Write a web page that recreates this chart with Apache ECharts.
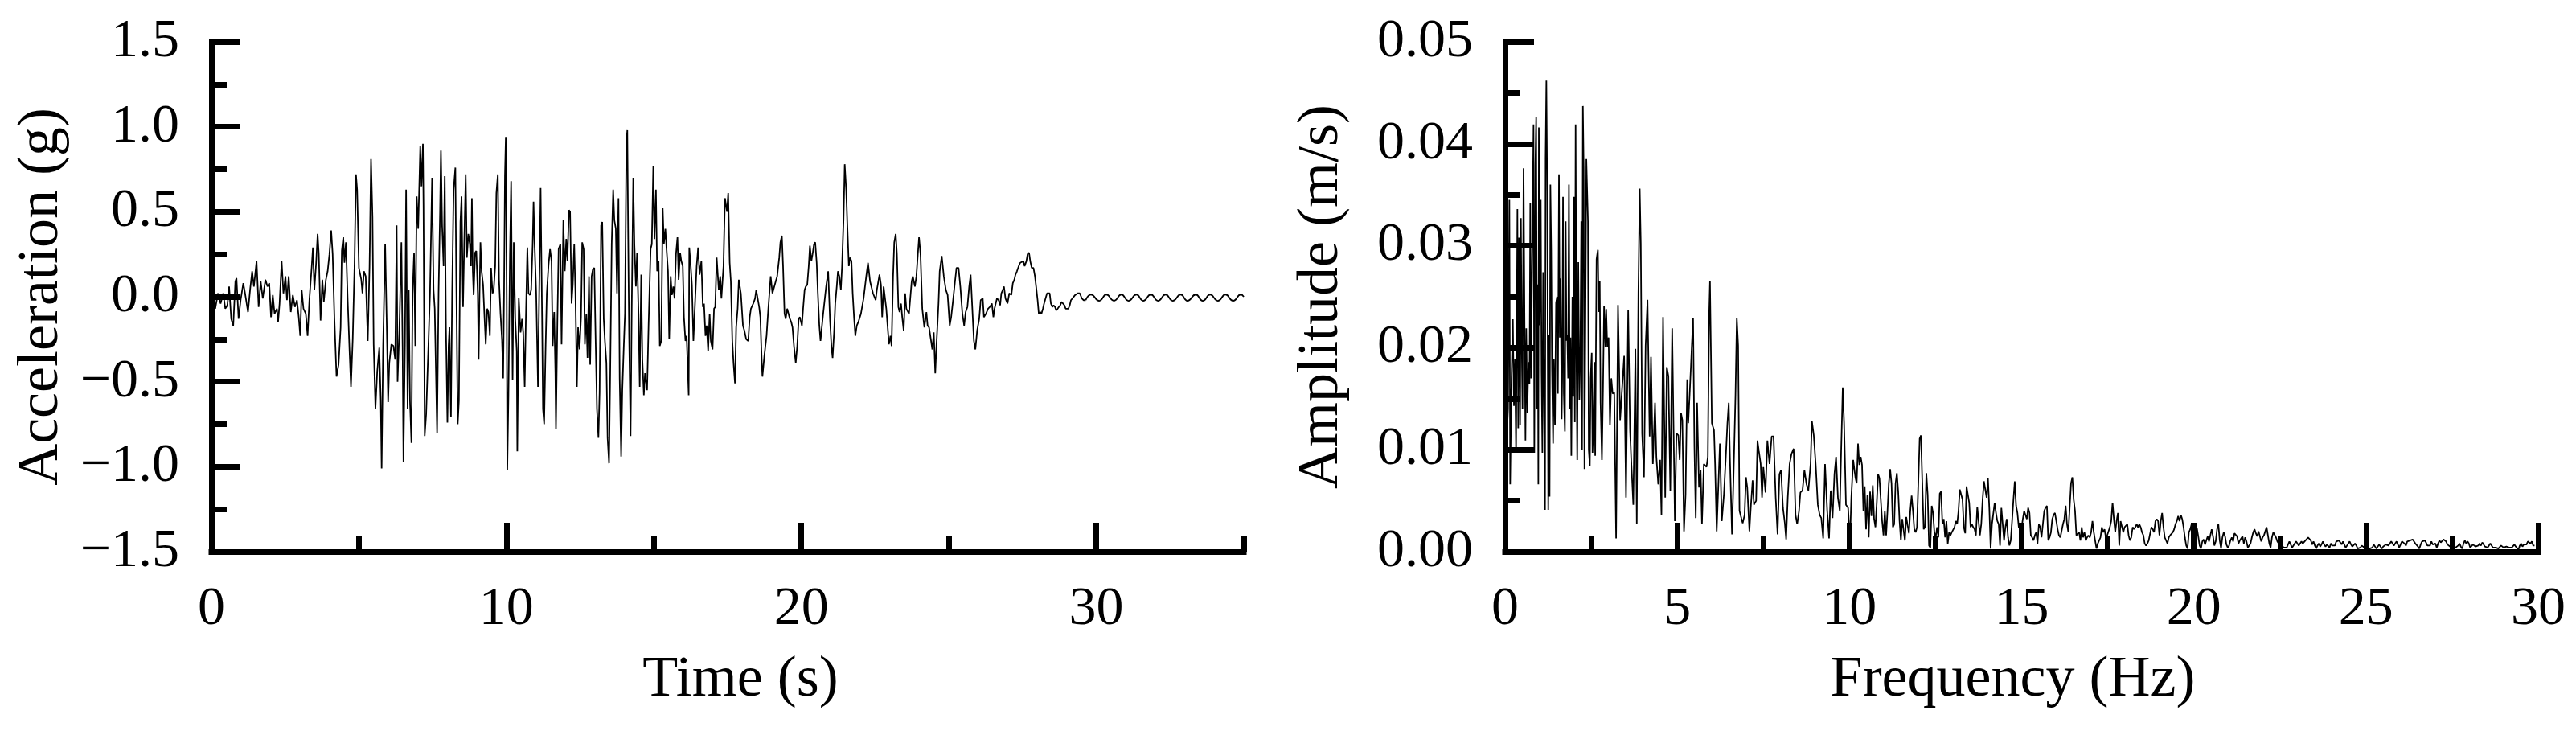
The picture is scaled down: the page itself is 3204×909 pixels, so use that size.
<!DOCTYPE html>
<html>
<head>
<meta charset="utf-8">
<title>Acceleration and Fourier amplitude</title>
<script src="https://cdn.jsdelivr.net/npm/echarts@6.0.0/dist/echarts.min.js"></script>
<style>
  html, body { margin: 0; padding: 0; background: #fff; }
  #chart { width: 3204px; height: 909px; }
</style>
</head>
<body>
<div id="chart"></div>
<script>
// time history, [time s, acceleration g]
var accel0to6 = [[0,0],[0.13,-0.07],[0.22,0.02],[0.31,-0.04],[0.40,0.02],[0.47,-0.07],[0.54,-0.05],[0.60,0.06],[0.67,-0.13],[0.74,-0.17],[0.81,0.09],[0.85,0.11],[0.92,-0.13],[0.99,-0.02],[1.08,0.08],[1.14,0.02],[1.24,-0.09],[1.31,0.04],[1.38,0.15],[1.44,0.06],[1.53,0.21],[1.60,-0.06],[1.67,0.09],[1.74,-0.01],[1.83,0.10],[1.90,0.06],[1.96,0.08],[2.02,-0.12],[2.08,0.01],[2.14,-0.10],[2.22,-0.07],[2.26,-0.15],[2.31,-0.04],[2.38,0.21],[2.44,0.02],[2.51,0.12],[2.56,-0.02],[2.62,0.12],[2.69,-0.09],[2.76,0.01],[2.83,-0.06],[2.90,-0.02],[2.96,-0.12],[3.01,-0.23],[3.06,0.04],[3.12,-0.07],[3.20,-0.10],[3.26,-0.23],[3.32,-0.02],[3.40,0.18],[3.44,0.29],[3.49,0.04],[3.55,0.20],[3.60,0.37],[3.64,0.25],[3.70,-0.14],[3.76,0.10],[3.81,-0.03],[3.88,0.10],[3.94,0.15],[4.00,0.25],[4.06,0.39],[4.11,0.25],[4.17,-0.13],[4.24,-0.47],[4.31,-0.40],[4.38,-0.18],[4.42,0.27],[4.47,0.35],[4.51,0.20],[4.56,0.32],[4.62,-0.02],[4.68,-0.31],[4.73,-0.53],[4.79,-0.25],[4.85,0.18],[4.90,0.72],[4.94,0.63],[5.00,0.17],[5.08,0.10],[5.12,0.02],[5.17,0.15],[5.23,0.12],[5.30,-0.26],[5.36,0.18],[5.41,0.81],[5.46,0.47],[5.50,-0.28],[5.56,-0.66],[5.62,-0.44],[5.69,-0.30],[5.74,-0.61],[5.77,-1.01],[5.82,-0.29],[5.89,0.31],[5.94,-0.13],[5.99,-0.62]];
var accel6to12 = [[6.03,-0.39],[6.10,-0.28],[6.17,-0.29],[6.23,-0.37],[6.28,0.42],[6.31,-0.50],[6.37,-0.20],[6.44,0.32],[6.48,-0.29],[6.51,-0.97],[6.56,-0.29],[6.60,0.63],[6.65,-0.66],[6.69,0.04],[6.73,-0.61],[6.78,-0.86],[6.82,0.02],[6.87,0.26],[6.91,-0.29],[6.96,0.59],[7.01,0.40],[7.08,0.89],[7.12,0.65],[7.17,0.90],[7.19,0.53],[7.23,-0.82],[7.28,-0.69],[7.35,-0.32],[7.41,0.02],[7.48,0.70],[7.53,0.04],[7.57,-0.07],[7.65,-0.80],[7.70,0.02],[7.75,0.50],[7.78,0.86],[7.82,0.42],[7.87,0.18],[7.91,0.71],[7.95,-0.18],[8.00,-0.74],[8.04,-0.29],[8.07,-0.18],[8.12,-0.71],[8.16,0.02],[8.21,0.63],[8.27,0.76],[8.30,0.10],[8.35,-0.75],[8.39,-0.61],[8.44,0.44],[8.48,0.59],[8.53,-0.06],[8.57,0.31],[8.62,0.72],[8.66,0.23],[8.71,0.37],[8.76,0.31],[8.80,0.18],[8.83,0.58],[8.86,0.15],[8.89,0.01],[8.94,0.26],[8.98,0.27],[9.03,0.02],[9.06,-0.37],[9.09,0.02],[9.12,0.32],[9.16,0.15],[9.21,0.07],[9.26,-0.13],[9.30,-0.28],[9.35,-0.07],[9.39,-0.09],[9.44,-0.23],[9.48,0.17],[9.53,0.02],[9.57,0.04],[9.62,0.18],[9.66,0.61],[9.71,0.72],[9.75,0.10],[9.80,-0.10],[9.85,-0.25],[9.89,-0.48],[9.92,0.02],[9.95,0.71],[9.98,0.94],[10.01,0.02],[10.03,-1.02],[10.07,-0.58],[10.12,0.25],[10.16,0.68],[10.21,-0.49],[10.25,0.32],[10.30,-0.13],[10.35,-0.32],[10.37,-0.91],[10.42,-0.01],[10.48,-0.21],[10.53,-0.13],[10.57,-0.21],[10.62,-0.53],[10.66,-0.13],[10.71,0.29],[10.75,0.02],[10.80,0.01],[10.84,0.04],[10.89,0.31],[10.92,0.56],[10.95,0.34],[11.01,0.02],[11.07,-0.53],[11.12,0.13],[11.16,0.64],[11.21,-0.13],[11.24,-0.66],[11.28,-0.75],[11.33,-0.29],[11.37,0.02],[11.43,0.19],[11.48,0.28],[11.53,0.21],[11.57,-0.29],[11.62,-0.09],[11.66,-0.45],[11.68,-0.78],[11.73,-0.13],[11.77,0.28],[11.83,0.31],[11.87,-0.28],[11.93,0.45],[11.98,0.15]];
var accel12to18 = [[12.03,0.34],[12.07,0.21],[12.12,0.51],[12.16,0.50],[12.21,-0.04],[12.25,0.07],[12.30,0.31],[12.34,0.02],[12.39,-0.53],[12.43,-0.18],[12.48,-0.31],[12.53,-0.12],[12.57,0.32],[12.62,0.28],[12.66,-0.28],[12.71,-0.10],[12.75,-0.36],[12.80,0.12],[12.84,-0.40],[12.89,0.12],[12.93,0.16],[12.98,0.17],[13.02,-0.21],[13.07,-0.66],[13.12,-0.83],[13.16,-0.56],[13.21,0.42],[13.25,0.44],[13.30,-0.13],[13.34,-0.26],[13.39,-0.39],[13.43,-0.83],[13.48,-0.98],[13.52,-0.45],[13.57,0.31],[13.62,0.63],[13.66,0.45],[13.71,0.40],[13.75,0.02],[13.80,0.58],[13.84,-0.48],[13.89,-0.94],[13.93,-0.55],[13.98,-0.29],[14.02,-0.10],[14.07,0.91],[14.10,0.98],[14.13,0.34],[14.16,-0.23],[14.21,-0.82],[14.25,-0.06],[14.30,0.70],[14.34,0.31],[14.39,0.06],[14.43,0.26],[14.48,-0.10],[14.52,-0.53],[14.57,0.13],[14.61,-0.37],[14.66,-0.58],[14.70,-0.45],[14.77,-0.55],[14.82,-0.17],[14.89,0.28],[14.93,0.31],[14.98,0.77],[15.02,0.34],[15.07,0.63],[15.11,0.15],[15.16,0.21],[15.20,-0.29],[15.25,-0.26],[15.30,0.52],[15.34,0.31],[15.39,0.40],[15.43,0.28],[15.48,0.15],[15.52,-0.25],[15.57,0.12],[15.61,0.01],[15.66,0.06],[15.70,-0.01],[15.75,0.25],[15.80,0.35],[15.84,0.10],[15.89,0.26],[15.93,0.21],[15.98,0.18],[16.02,-0.12],[16.07,-0.26],[16.11,-0.23],[16.18,-0.58],[16.20,0.29],[16.25,0.18],[16.29,0.07],[16.34,-0.26],[16.39,-0.06],[16.45,0.18],[16.50,0.29],[16.55,0.13],[16.61,0.21],[16.66,-0.06],[16.70,-0.04],[16.75,-0.23],[16.79,-0.17],[16.84,-0.32],[16.89,-0.10],[16.93,-0.26],[16.99,-0.31],[17.04,-0.07],[17.08,-0.06],[17.13,0.23],[17.20,0.04],[17.25,0.12],[17.29,-0.01],[17.36,0.18],[17.41,0.58],[17.48,0.50],[17.52,0.61],[17.57,0.20],[17.61,0.09],[17.66,-0.26],[17.70,-0.39],[17.75,-0.51],[17.79,-0.18],[17.84,-0.07],[17.88,0.10],[17.95,0.02]];
var accel18to24 = [[18.02,-0.17],[18.07,-0.20],[18.13,-0.25],[18.20,-0.26],[18.25,-0.12],[18.29,-0.07],[18.37,-0.04],[18.43,-0.01],[18.47,0.04],[18.57,-0.06],[18.61,-0.12],[18.66,-0.39],[18.68,-0.47],[18.75,-0.34],[18.82,-0.23],[18.88,-0.07],[18.96,0.12],[19.02,0.02],[19.06,0.02],[19.13,0.09],[19.18,0.12],[19.25,0.23],[19.29,0.32],[19.34,0.36],[19.38,0.18],[19.43,-0.10],[19.47,-0.13],[19.52,-0.07],[19.56,-0.07],[19.61,-0.13],[19.66,-0.15],[19.70,-0.18],[19.75,-0.29],[19.81,-0.39],[19.86,-0.29],[19.91,-0.13],[19.95,-0.12],[20.02,-0.17],[20.06,-0.07],[20.11,0.04],[20.15,0.06],[20.20,0.07],[20.25,0.18],[20.29,0.30],[20.34,0.21],[20.38,0.25],[20.43,0.31],[20.47,0.32],[20.52,0.20],[20.56,0.02],[20.61,-0.17],[20.65,-0.26],[20.70,-0.17],[20.74,-0.10],[20.84,0.06],[20.91,0.15],[20.97,-0.13],[21.02,-0.29],[21.06,-0.36],[21.11,-0.21],[21.15,-0.04],[21.20,0.06],[21.24,0.15],[21.29,0.12],[21.34,0.04],[21.38,0.18],[21.43,0.45],[21.47,0.78],[21.52,0.63],[21.56,0.42],[21.61,0.18],[21.65,0.23],[21.70,0.21],[21.74,0.02],[21.79,-0.13],[21.83,-0.23],[21.88,-0.17],[21.93,-0.15],[22.02,-0.10],[22.11,-0.01],[22.20,0.12],[22.26,0.20],[22.33,0.09],[22.43,0.02],[22.52,-0.02],[22.56,0.04],[22.65,0.13],[22.70,0.07],[22.74,-0.12],[22.79,0.06],[22.88,-0.07],[22.97,-0.28],[23.02,-0.23],[23.06,-0.29],[23.11,0.12],[23.15,0.32],[23.20,0.37],[23.24,0.25],[23.29,-0.06],[23.33,-0.09],[23.38,-0.04],[23.42,-0.12],[23.47,-0.20],[23.52,0.02],[23.56,-0.07],[23.65,-0.10],[23.74,0.09],[23.78,0.12],[23.85,0.06],[23.90,0.12],[23.95,0.25],[23.99,0.35]];
var accel24to30 = [[24.04,0.25],[24.10,-0.07],[24.17,-0.18],[24.24,-0.09],[24.28,-0.17],[24.33,-0.18],[24.39,-0.25],[24.44,-0.31],[24.49,-0.21],[24.54,-0.45],[24.58,-0.29],[24.65,-0.04],[24.69,0.15],[24.76,0.24],[24.83,0.12],[24.90,0.04],[24.96,0.01],[25.03,-0.17],[25.08,-0.12],[25.15,-0.01],[25.21,0.09],[25.26,0.17],[25.33,0.17],[25.39,0.06],[25.46,-0.10],[25.52,-0.17],[25.57,-0.09],[25.63,-0.06],[25.69,0.06],[25.74,0.13],[25.78,-0.01],[25.85,-0.26],[25.90,-0.31],[25.96,-0.20],[26.03,-0.13],[26.08,-0.02],[26.15,-0.01],[26.19,-0.12],[26.26,-0.10],[26.33,-0.07],[26.39,-0.06],[26.46,-0.04],[26.51,-0.12],[26.55,-0.07],[26.63,-0.01],[26.69,-0.02],[26.74,-0.05],[26.78,0.02],[26.83,0.04],[26.87,0.06],[26.92,-0.01],[26.99,-0.04],[27.05,0.02],[27.12,0.01],[27.17,0.08],[27.22,0.10],[27.26,0.13],[27.31,0.15],[27.37,0.18],[27.42,0.20],[27.46,0.20],[27.53,0.21],[27.57,0.18],[27.63,0.21],[27.67,0.25],[27.72,0.26],[27.76,0.21],[27.81,0.17],[27.87,0.17],[27.92,0.12],[27.96,0.06],[28.01,-0.02],[28.05,-0.10],[28.10,-0.09],[28.14,-0.10],[28.19,-0.07],[28.23,-0.04],[28.28,-0.01],[28.33,0.02],[28.37,0.02],[28.42,0.02],[28.46,-0.04],[28.51,-0.06],[28.55,-0.05],[28.60,-0.06],[28.64,-0.08],[28.69,-0.07],[28.73,-0.06],[28.78,-0.05],[28.82,-0.03],[28.87,-0.04],[28.92,-0.05],[28.96,-0.07],[29.01,-0.07],[29.05,-0.07],[29.10,-0.05],[29.14,-0.02],[29.19,-0.01],[29.28,0.01],[29.37,0.02],[29.44,0.02],[29.51,-0.01],[29.57,-0.02],[29.64,-0.02]];
// small free oscillation at the end of the record (peaks and troughs)
var accelTail = [[29.64,-0.02],[29.82,0.013],[30.10,-0.024],[30.34,0.013],[30.60,-0.024],[30.85,0.013],[31.09,-0.024],[31.36,0.013],[31.59,-0.024],[31.85,0.013],[32.09,-0.024],[32.35,0.013],[32.59,-0.024],[32.86,0.013],[33.09,-0.024],[33.37,0.013],[33.61,-0.024],[33.86,0.013],[34.12,-0.024],[34.38,0.013],[34.64,-0.024],[34.90,0.013],[35.00,0.0]];

// Fourier spectrum, [frequency Hz, amplitude m/s]
var specBelow3Hz = [[0.04,0.0105],[0.086,0.0140],[0.125,0.0345],[0.148,0.0066],[0.187,0.0170],[0.226,0.0228],[0.257,0.0143],[0.288,0.0189],[0.319,0.0097],[0.358,0.0336],[0.382,0.0121],[0.405,0.0308],[0.436,0.0124],[0.460,0.0327],[0.483,0.0204],[0.506,0.0140],[0.537,0.0376],[0.569,0.0207],[0.592,0.0109],[0.615,0.0219],[0.646,0.0136],[0.678,0.0186],[0.709,0.0164],[0.732,0.0342],[0.755,0.0170],[0.787,0.0287],[0.826,0.0419],[0.849,0.0097],[0.880,0.0379],[0.903,0.0426],[0.927,0.0140],[0.950,0.0262],[0.966,0.0066],[0.981,0.0416],[1.005,0.0222],[1.036,0.0345],[1.059,0.0176],[1.083,0.0097],[1.106,0.0274],[1.137,0.0130],[1.160,0.0041],[1.176,0.0385],[1.199,0.0462],[1.223,0.0354],[1.254,0.0041],[1.277,0.0213],[1.293,0.0054],[1.316,0.0360],[1.340,0.0296],[1.363,0.0179],[1.394,0.0106],[1.417,0.0189],[1.449,0.0124],[1.480,0.0244],[1.511,0.0250],[1.534,0.0155],[1.565,0.0370],[1.589,0.0210],[1.612,0.0268],[1.643,0.0130],[1.659,0.0170],[1.682,0.0348],[1.706,0.0155],[1.737,0.0118],[1.760,0.0324],[1.783,0.0207],[1.807,0.0213],[1.830,0.0170],[1.854,0.0360],[1.877,0.0140],[1.900,0.0210],[1.924,0.0094],[1.955,0.0250],[1.978,0.0152],[2.002,0.0348],[2.025,0.0127],[2.048,0.0419],[2.072,0.0195],[2.095,0.0090],[2.126,0.0284],[2.157,0.0149],[2.188,0.0201],[2.212,0.0324],[2.235,0.0100],[2.259,0.0437],[2.282,0.0376],[2.305,0.0081],[2.329,0.0207],[2.360,0.0385],[2.383,0.0386],[2.407,0.0324],[2.430,0.0100],[2.461,0.0084],[2.484,0.0170],[2.516,0.0195],[2.539,0.0097],[2.562,0.0121],[2.593,0.0186],[2.617,0.0094],[2.656,0.0287],[2.695,0.0296],[2.718,0.0235],[2.749,0.0265],[2.773,0.0146],[2.812,0.0090],[2.843,0.0158],[2.874,0.0241],[2.913,0.0201],[2.936,0.0238],[2.967,0.0201],[3.006,0.0210],[3.045,0.0124],[3.084,0.0170],[3.123,0.0155]];
var spec3to10Hz = [[3.170,0.0156],[3.224,0.0013],[3.279,0.0242],[3.341,0.0129],[3.396,0.0159],[3.458,0.0192],[3.512,0.0053],[3.575,0.0237],[3.629,0.0119],[3.668,0.0086],[3.723,0.0046],[3.785,0.0199],[3.824,0.0027],[3.871,0.0254],[3.910,0.0356],[3.941,0.0302],[3.980,0.0116],[4.034,0.0073],[4.081,0.0202],[4.136,0.0247],[4.198,0.0113],[4.237,0.0191],[4.291,0.0086],[4.354,0.0146],[4.393,0.0093],[4.447,0.0066],[4.502,0.0090],[4.541,0.0036],[4.587,0.0230],[4.650,0.0053],[4.696,0.0181],[4.743,0.0172],[4.798,0.0060],[4.852,0.0219],[4.891,0.0219],[4.930,0.0030],[4.977,0.0116],[5.031,0.0114],[5.070,0.0090],[5.109,0.0136],[5.148,0.0129],[5.195,0.0020],[5.241,0.0056],[5.288,0.0169],[5.319,0.0126],[5.358,0.0153],[5.397,0.0182],[5.421,0.0201],[5.460,0.0229],[5.498,0.0103],[5.537,0.0033],[5.576,0.0146],[5.631,0.0063],[5.678,0.0080],[5.717,0.0027],[5.771,0.0086],[5.849,0.0083],[5.888,0.0093],[5.927,0.0235],[5.950,0.0265],[6.005,0.0126],[6.067,0.0119],[6.098,0.0086],[6.145,0.0020],[6.199,0.0070],[6.238,0.0106],[6.293,0.0030],[6.355,0.0056],[6.410,0.0093],[6.456,0.0126],[6.495,0.0146],[6.534,0.0086],[6.589,0.0017],[6.628,0.0066],[6.690,0.0153],[6.729,0.0229],[6.768,0.0202],[6.807,0.0040],[6.861,0.0033],[6.900,0.0028],[6.955,0.0036],[6.994,0.0073],[7.033,0.0063],[7.095,0.0020],[7.134,0.0043],[7.188,0.0070],[7.227,0.0046],[7.290,0.0050],[7.329,0.0109],[7.368,0.0099],[7.422,0.0086],[7.461,0.0053],[7.500,0.0083],[7.562,0.0058],[7.617,0.0109],[7.679,0.0086],[7.741,0.0113],[7.796,0.0113],[7.858,0.0053],[7.913,0.0017],[7.967,0.0076],[8.014,0.0080],[8.069,0.0043],[8.123,0.0028],[8.162,0.0012],[8.209,0.0053],[8.263,0.0086],[8.318,0.0096],[8.380,0.0101],[8.435,0.0036],[8.481,0.0027],[8.536,0.0040],[8.575,0.0058],[8.637,0.0060],[8.692,0.0080],[8.754,0.0066],[8.808,0.0060],[8.871,0.0086],[8.910,0.0128],[8.964,0.0114],[9.019,0.0086],[9.081,0.0046],[9.136,0.0036],[9.182,0.0033],[9.237,0.0013],[9.291,0.0086],[9.354,0.0040],[9.408,0.0013],[9.455,0.0060],[9.509,0.0033],[9.564,0.0076],[9.611,0.0093],[9.665,0.0053],[9.720,0.0040],[9.759,0.0099],[9.805,0.0161],[9.844,0.0126],[9.899,0.0046],[9.961,0.0043],[10.016,0.0010],[10.054,0.0053],[10.109,0.0090],[10.171,0.0073]];
// above 10 Hz the samples are evenly spaced
var specHighStart = 10.21;
var specHighStep = 0.0389;
var specHighAmp = [
  0.0067,0.0106,0.0085,0.0093,0.0085,0.0040,0.0064,0.0022,0.0056,0.0014,
  0.0059,0.0035,0.0065,0.0032,0.0024,0.0048,0.0076,0.0072,0.0051,0.0030,
  0.0016,0.0040,0.0016,0.0040,0.0067,0.0081,0.0067,0.0024,0.0027,0.0067,
  0.0077,0.0059,0.0030,0.0011,0.0032,0.0032,0.0011,0.0034,0.0035,0.0018,
  0.0040,0.0055,0.0040,0.0022,0.0019,0.0024,0.0067,0.0111,0.0114,0.0067,
  0.0022,0.0024,0.0077,0.0056,0.0006,0.0004,0.0045,0.0038,0.0019,0.0014,
  0.0024,0.0014,0.0057,0.0059,0.0027,0.0032,0.0014,0.0030,0.0008,0.0019,
  0.0016,0.0019,0.0020,0.0024,0.0030,0.0027,0.0040,0.0061,0.0061,0.0051,
  0.0024,0.0018,0.0064,0.0064,0.0048,0.0024,0.0027,0.0024,0.0022,0.0016,
  0.0044,0.0030,0.0016,0.0027,0.0051,0.0069,0.0068,0.0053,0.0072,0.0043,
  0.0003,0.0027,0.0027,0.0048,0.0038,0.0030,0.0027,0.0006,0.0043,0.0043,
  0.0011,0.0024,0.0032,0.0014,0.0006,0.0011,0.0030,0.0051,0.0069,0.0045,
  0.0038,0.0024,0.0024,0.0022,0.0032,0.0040,0.0040,0.0032,0.0043,0.0038,
  0.0016,0.0014,0.0011,0.0016,0.0019,0.0008,0.0027,0.0024,0.0014,0.0027,
  0.0040,0.0043,0.0045,0.0011,0.0014,0.0019,0.0032,0.0036,0.0038,0.0030,
  0.0022,0.0016,0.0014,0.0014,0.0027,0.0032,0.0045,0.0027,0.0019,0.0043,
  0.0067,0.0073,0.0051,0.0040,0.0016,0.0016,0.0019,0.0011,0.0024,0.0014,
  0.0019,0.0011,0.0014,0.0016,0.0014,0.0019,0.0030,0.0019,0.0011,0.0003,
  0.0008,0.0011,0.0014,0.0024,0.0019,0.0022,0.0014,0.0016,0.0016,0.0024,
  0.0030,0.0048,0.0032,0.0019,0.0030,0.0038,0.0006,0.0030,0.0030,0.0019,
  0.0024,0.0024,0.0027,0.0016,0.0011,0.0014,0.0024,0.0022,0.0024,0.0027,
  0.0024,0.0027,0.0024,0.0019,0.0016,0.0008,0.0006,0.0008,0.0011,0.0011,
  0.0024,0.0022,0.0019,0.0030,0.0032,0.0030,0.0016,0.0030,0.0038,0.0024,
  0.0014,0.0011,0.0008,0.0014,0.0016,0.0016,0.0019,0.0022,0.0027,0.0030,
  0.0035,0.0030,0.0036,0.0032,0.0024,0.0014,0.0006,0.0003,0.0019,0.0022,
  0.0027,
  0.0014,0.0016,0.0020,0.0023,0.0015,0.0006,0.0003,0.0010,0.0012,0.0007,
  0.0011,0.0015,0.0010,0.0016,0.0022,0.0015,0.0006,0.0010,0.0022,0.0027,
  0.0011,0.0003,0.0014,0.0019,0.0015,0.0007,0.0004,0.0006,0.0011,0.0014,
  0.0010,0.0018,0.0019,0.0015,0.0008,0.0011,0.0010,0.0015,0.0008,0.0014,
  0.0010,0.0004,0.0003,0.0008,0.0014,0.0019,0.0022,0.0018,0.0015,0.0020,
  0.0015,0.0010,0.0014,0.0016,0.0020,0.0024,0.0016,0.0008,0.0004,0.0014,
  0.0019,0.0018,0.0014,0.0010,0.0008,0.0007,0.0006,0.0006,0.0004,0.0003,
  0.0004,0.0007,0.0010,0.0007,0.0004,0.0006,0.0008,0.0010,0.0008,0.0006,
  0.0007,0.0010,0.0008,0.0008,0.0011,0.0012,0.0014,0.0015,0.0011,0.0007,
  0.0010,0.0006,0.0003,0.0006,0.0008,0.0005,0.0007,0.0010,0.0007,0.0005,
  0.0007,0.0006,0.0004,0.0008,0.0006,0.0007,0.0006,0.0010,0.0011,0.0011,
  0.0009,0.0007,0.0010,0.0007,0.0004,0.0006,0.0008,0.0010,0.0007,0.0005,
  0.0006,0.0008,0.0006,0.0003,0.0004,0.0004,0.0006,0.0005,0.0004,0.0004,
  0.0005,0.0005,0.0003,0.0004,0.0004,0.0007,0.0005,0.0003,0.0004,0.0007,
  0.0006,0.0003,0.0005,0.0004,0.0007,0.0008,0.0006,0.0005,0.0010,0.0008,
  0.0006,0.0008,0.0010,0.0007,0.0004,0.0005,0.0010,0.0010,0.0008,0.0006,
  0.0010,0.0009,0.0011,0.0011,0.0012,0.0011,0.0008,0.0009,0.0005,0.0003,
  0.0007,0.0010,0.0011,0.0011,0.0009,0.0006,0.0005,0.0006,0.0010,0.0007,
  0.0006,0.0008,0.0004,0.0008,0.0011,0.0009,0.0010,0.0012,0.0011,0.0010,
  0.0007,0.0006,0.0005,0.0005,0.0004,0.0004,0.0004,0.0003,0.0006,0.0008,
  0.0005,0.0003,0.0008,0.0011,0.0008,0.0010,0.0008,0.0004,0.0003,0.0007,
  0.0006,0.0005,0.0004,0.0006,0.0008,0.0006,0.0009,0.0007,0.0005,0.0006,
  0.0004,0.0005,0.0008,0.0006,0.0004,0.0005,0.0004,0.0004,0.0003,0.0004,
  0.0006,0.0005,0.0004,0.0003,0.0005,0.0006,0.0004,0.0003,0.0004,0.0004,
  0.0007,0.0005,0.0004,0.0002,0.0006,0.0008,0.0005,0.0007,0.0008,0.0007,
  0.0010,0.0011,0.0008,0.0010,0.0006,0.0006
];

// tick labels
var timeTicks = [0, 10, 20, 30];
var timeMinorTicks = [5, 15, 25, 35];

var FONT = 'Liberation Serif';
var BLACK = '#000';

var accelData = accel0to6.concat(accel6to12, accel12to18, accel18to24, accel24to30);
var specData = specBelow3Hz.concat(spec3to10Hz, specHighAmp.map(function (a, i) {
    return [+(specHighStart + i * specHighStep).toFixed(4), a];
}));

function axisLine() {
    return { show: true, onZero: false, lineStyle: { color: BLACK, width: 7, cap: 'square' } };
}
function majorTick() {
    return { show: true, inside: true, length: 36, lineStyle: { color: BLACK, width: 7 } };
}
function minorTick() {
    return { show: true, splitNumber: 2, length: 19, lineStyle: { color: BLACK, width: 7 } };
}
function labelStyle(fmt, margin) {
    return { color: BLACK, fontFamily: FONT, fontSize: 68, margin: margin, formatter: fmt };
}
function nameStyle(pad) {
    return { color: BLACK, fontFamily: FONT, fontSize: 72, padding: pad || 0 };
}

// minus sign as in the original figure
function signed(v, d) {
    return (v < 0 ? '\u2212' : '') + Math.abs(v).toFixed(d);
}

var chart = echarts.init(document.getElementById('chart'), null, { renderer: 'canvas' });

var option = {
    animation: false,
    backgroundColor: '#fff',
    grid: [
        { left: 263, top: 52, width: 1284, height: 634 },
        { left: 1872, top: 52, width: 1285, height: 634 }
    ],
    xAxis: [
        {
            type: 'value', gridIndex: 0, min: 0, max: 35,
            name: 'Time (s)', nameLocation: 'middle', nameGap: 124, nameTextStyle: nameStyle([0, 0, 0, 32]),
            axisLine: axisLine(),
            axisTick: Object.assign(majorTick(), { customValues: timeTicks }),
            axisLabel: Object.assign(labelStyle(function (v) { return String(v); }, 38), { customValues: timeTicks }),
            splitLine: { show: false }
        },
        {
            // only carries the short ticks at 5, 15, 25, 35 s
            type: 'value', gridIndex: 0, min: 0, max: 35, position: 'bottom',
            axisLine: { show: false, onZero: false },
            axisTick: { show: true, inside: true, length: 19, lineStyle: { color: BLACK, width: 7 }, customValues: timeMinorTicks },
            axisLabel: { show: false },
            splitLine: { show: false }
        },
        {
            type: 'value', gridIndex: 1, min: 0, max: 30, interval: 5,
            name: 'Frequency (Hz)', nameLocation: 'middle', nameGap: 124, nameTextStyle: nameStyle([0, 22, 0, 0]),
            axisLine: axisLine(), axisTick: majorTick(), minorTick: minorTick(),
            axisLabel: labelStyle(function (v) { return String(v); }, 38),
            splitLine: { show: false }, minorSplitLine: { show: false }
        }
    ],
    yAxis: [
        {
            type: 'value', gridIndex: 0, min: -1.5, max: 1.5, interval: 0.5,
            name: 'Acceleration (g)', nameLocation: 'middle', nameGap: 175, nameTextStyle: nameStyle(),
            axisLine: axisLine(), axisTick: majorTick(), minorTick: minorTick(),
            axisLabel: labelStyle(function (v) { return signed(v, 1); }, 40),
            splitLine: { show: false }, minorSplitLine: { show: false }
        },
        {
            type: 'value', gridIndex: 1, min: 0, max: 0.05, interval: 0.01,
            name: 'Amplitude (m/s)', nameLocation: 'middle', nameGap: 192, nameTextStyle: nameStyle(),
            axisLine: axisLine(), axisTick: majorTick(), minorTick: minorTick(),
            axisLabel: labelStyle(function (v) { return v.toFixed(2); }, 40),
            splitLine: { show: false }, minorSplitLine: { show: false }
        }
    ],
    series: [
        {
            type: 'line', xAxisIndex: 0, yAxisIndex: 0, data: accelData,
            showSymbol: false, sampling: null, silent: true,
            lineStyle: { color: BLACK, width: 1.8 }
        },
        {
            type: 'line', xAxisIndex: 0, yAxisIndex: 0, data: accelTail, smooth: 0.5,
            showSymbol: false, silent: true,
            lineStyle: { color: BLACK, width: 1.8 }
        },
        {
            type: 'line', xAxisIndex: 2, yAxisIndex: 1, data: specData,
            showSymbol: false, silent: true,
            lineStyle: { color: BLACK, width: 1.8 }
        }
    ]
};

chart.setOption(option);
</script>
</body>
</html>
